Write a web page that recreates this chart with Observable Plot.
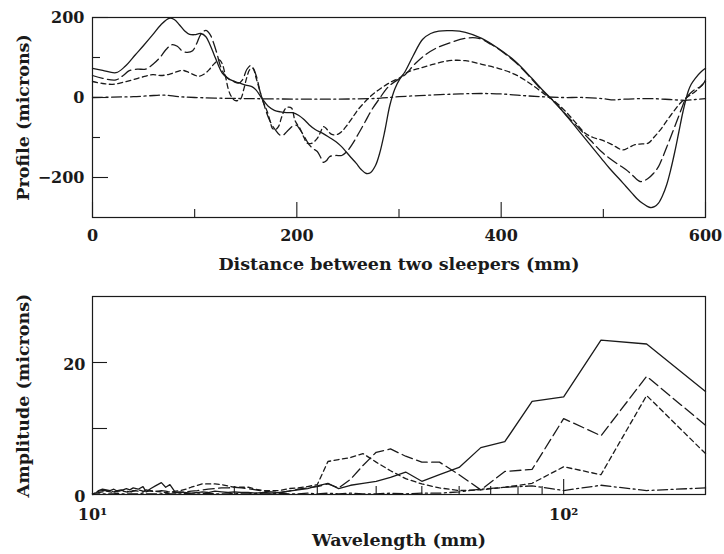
<!DOCTYPE html>
<html>
<head>
<meta charset="utf-8">
<script src="https://cdn.jsdelivr.net/npm/d3@7"></script>
<script src="https://cdn.jsdelivr.net/npm/@observablehq/plot@0.6"></script>
<style>
  html, body { margin: 0; padding: 0; background: #fff; }
  #chart { width: 724px; height: 554px; }
  #chart svg { display: block; }
</style>
</head>
<body>
<div id="chart"></div>
<script>
// ---------- Top panel: profile between two sleepers ----------
const solidDist = [0,10,23,32,42,50,59,67,75,80,85,90,95,100,106,111,115,119,123,127,132,137,143,150,156,160,166,172,178,184,190,196,202,207,212,218,225,232,238,243,248,253,258,263,268,272,277,281,286,291,296,301,306,314,323,331,339,352,365,381,397,414,430,440,449,458,466,474,482,490,498,506,515,522,528,533,538,543,546,550,554,558,562,566,570,574,578,583,586,590,596,600];
const solidProf = [73,68,62,78,107,130,157,182,198,195,182,167,158,157,160,152,132,107,82,61,49,42,37,31,27,19,-3,-22,-32,-36,-38,-38,-45,-55,-68,-80,-89,-100,-110,-121,-135,-150,-164,-180,-190,-188,-170,-140,-85,-20,22,47,65,105,145,160,166,167,163,148,123,90,48,20,-3,-28,-52,-77,-102,-127,-152,-177,-202,-222,-239,-253,-264,-272,-275,-273,-264,-245,-218,-180,-135,-85,-35,15,33,48,65,73];

const longDist = [0,10,23,30,36,44,52,60,66,72,78,83,88,93,98,102,106,111,115,118,122,125,129,134,138,143,147,151,155,158,161,164,167,170,173,176,179,183,186,190,193,197,200,203,207,212,216,220,223,226,229,232,238,244,249,254,260,267,273,280,290,301,306,316,326,337,349,365,378,390,397,414,430,440,449,458,466,474,482,490,498,506,515,522,528,532,536,540,544,549,554,558,563,568,573,577,580,583,587,591,595,598,600];
const longProf = [55,48,44,55,67,71,71,85,100,120,132,128,116,113,117,135,158,168,158,140,108,80,58,45,40,36,45,70,80,70,48,15,-10,-35,-55,-70,-81,-93,-95,-86,-78,-70,-70,-80,-96,-118,-128,-135,-148,-162,-158,-148,-145,-145,-135,-118,-92,-60,-32,-6,28,48,57,85,107,124,136,148,148,133,122,88,46,18,-4,-27,-50,-71,-93,-114,-135,-152,-168,-180,-193,-203,-210,-208,-202,-190,-173,-150,-118,-85,-52,-25,-6,5,15,22,27,35,44];

const shortDist = [0,10,20,30,39,50,59,67,75,82,88,94,100,104,109,114,119,124,127,130,133,136,140,145,148,151,154,157,160,164,167,171,174,176,179,182,185,189,192,195,198,201,203,207,210,215,220,223,226,229,232,235,240,244,249,254,260,267,273,280,287,293,301,306,312,319,332,349,365,381,397,414,430,443,449,458,466,474,482,490,498,508,519,525,531,538,544,550,557,563,570,575,580,585,590,595,600];
const shortProf = [40,35,33,38,44,52,57,55,58,64,68,63,56,53,58,69,84,94,84,55,20,2,-8,-3,20,50,70,73,50,15,-10,-35,-60,-77,-80,-73,-50,-27,-24,-27,-56,-70,-77,-100,-114,-114,-102,-88,-73,-78,-88,-93,-92,-85,-70,-52,-30,-10,5,19,31,40,50,60,67,72,82,92,92,83,73,57,32,7,-3,-22,-43,-66,-89,-100,-106,-117,-131,-125,-118,-116,-114,-98,-77,-55,-31,-15,-3,6,15,27,40];

const dashDotDist = [0,20,40,60,70,85,100,130,160,200,240,280,300,330,360,380,400,420,440,460,480,500,510,520,535,550,565,580,590,600];
const dashDotProf = [0,1,2,5,6,2,0,-2,-3,-4,-4,-2,2,6,9,10,9,5,2,0,0,-3,-6,-4,-3,-3,-5,-7,-5,-3];

const topXMajor = [0,200,400,600];
const topXMinor = [100,300,500];
const topYMajor = [-200,0,200];
const topYMinor = [-100,100];

// ---------- Bottom panel: amplitude spectrum ----------
const wavelength = [200,150,120,100,85.7,75,66.7,60,54.5,50,46.2,42.9,40,37.5,35.3,33.3,31.6,30,28.6,27.3,26.1,25,24,23.1,22.2,21.4,20.7,20,19.4,18.8,18.2,17.6,17.1,16.7,16.2,15.8,15.4,15,14.6,14.3,14,13.6,13.3,13,12.8,12.5,12.2,12,11.8,11.5,11.3,11.1,10.9,10.7,10.5,10.3,10.2,10];
const ampSolid = [15.6,22.8,23.4,14.8,14.1,8.0,7.1,4.1,3.0,2.0,3.4,2.6,2.0,1.7,1.4,0.9,1.7,1.3,0.9,0.7,0.5,0.3,0.2,0.3,0.2,0.3,0.3,0.4,0.3,0.4,0.5,0.3,0.4,0.3,0.2,0.3,0.4,0.3,1.5,1.1,1.8,1.3,0.9,0.4,1.2,0.8,1.0,0.7,0.9,0.6,0.5,0.8,0.6,0.7,0.8,0.6,0.3,0.1];
const ampLong = [10.5,17.9,8.9,11.5,3.8,3.5,0.7,3.0,4.9,4.9,5.8,6.9,6.4,4.4,2.3,1.0,1.6,1.2,1.0,0.8,0.5,0.3,0.4,0.5,0.7,0.9,1.0,1.1,1.0,1.0,0.9,0.8,0.7,0.6,0.5,0.4,0.3,0.3,0.4,0.5,0.6,0.4,0.5,0.7,0.4,0.5,0.6,0.4,0.5,0.7,0.6,0.4,0.5,0.6,0.6,0.5,0.3,0.1];
const ampShort = [6.2,15.0,3.0,4.2,1.7,1.1,0.7,0.6,1.0,1.6,2.4,3.6,4.9,6.2,5.6,5.3,5.0,1.5,1.2,1.0,0.9,0.6,0.6,0.6,0.8,1.1,1.1,1.1,1.3,1.5,1.6,1.6,1.6,1.4,1.1,0.8,0.6,0.5,0.4,0.3,0.4,0.5,0.6,0.4,0.5,0.7,0.5,0.3,0.4,0.6,0.5,0.3,0.4,0.5,0.4,0.3,0.2,0.1];
const ampDashDot = [1.0,0.6,1.4,0.6,1.3,1.1,0.8,0.4,0.2,0.2,0.1,0.2,0.1,0.1,0.2,0.1,0.2,0.1,0.2,0.1,0.1,0.2,0.1,0.1,0.2,0.1,0.1,0.2,0.1,0.1,0.1,0.2,0.1,0.1,0.1,0.2,0.1,0.1,0.1,0.2,0.1,0.1,0.1,0.1,0.2,0.1,0.1,0.1,0.1,0.1,0.2,0.1,0.1,0.1,0.1,0.1,0.1,0.0];

const botXMajor = [100];
const botXMinor = [20,30,40,50,60,70,80,90,200];
const botYTicks = [10,20];
const botXLabelValues = [10,100];
const botXLabelText = ["10\u00B9","10\u00B2"];
const botYLabels = [0,20];

// ---------- styles ----------
const INK = "#1a1a1a";
const LW = 1.3;
const dashes = {solid: null, long: "11,4.5", short: "5,3.5", dashdot: "10,3.5,2,3.5"};
const FONT = "DejaVu Serif";
const TICK_FS = 16, TITLE_FS = 17.5;

function table(xs, ys) { return xs.map((x, i) => ({x, y: ys[i]})); }

const W = 724;
const mL = 92, mR = 19;
const frameW = W - mL - mR;

// Top plot
const topH = 280, topMT = 17, topMB = 63, topFH = topH - topMT - topMB;
const topSeries = [
  [table(solidDist, solidProf), dashes.solid],
  [table(longDist, longProf), dashes.long],
  [table(shortDist, shortProf), dashes.short],
  [table(dashDotDist, dashDotProf), dashes.dashdot]
];

const topPlot = Plot.plot({
  width: W, height: topH,
  marginLeft: mL, marginRight: mR, marginTop: topMT, marginBottom: topMB,
  x: {domain: [0, 600]},
  y: {domain: [-300, 200]},
  style: {fontFamily: FONT, color: INK, background: "white"},
  marks: [
    ...topSeries.map(([data, dash]) => Plot.line(data, {x: "x", y: "y", curve: "catmull-rom", stroke: INK, strokeWidth: LW, strokeDasharray: dash})),
    Plot.tickX(topXMajor, {x: d => d, insetTop: topFH - 15, stroke: INK, strokeWidth: 1.1}),
    Plot.tickX(topXMinor, {x: d => d, insetTop: topFH - 8, stroke: INK, strokeWidth: 1.1}),
    Plot.tickY(topYMajor, {y: d => d, insetRight: frameW - 16, stroke: INK, strokeWidth: 1.1}),
    Plot.tickY(topYMinor, {y: d => d, insetRight: frameW - 8, stroke: INK, strokeWidth: 1.1}),
    Plot.frame({stroke: INK, strokeWidth: 1.2}),
    Plot.axisX(topXMajor, {tickSize: 0, tickPadding: 12, fontSize: TICK_FS, fontWeight: "bold", label: null}),
    Plot.axisY(topYMajor, {tickSize: 0, tickPadding: 8, fontSize: TICK_FS, fontWeight: "bold", label: null}),
    Plot.text(["Distance between two sleepers (mm)"], {frameAnchor: "bottom", textAnchor: "middle", lineAnchor: "top", dy: 40, fontSize: TITLE_FS, fontWeight: "bold", fill: INK}),
    Plot.text(["Profile (microns)"], {frameAnchor: "left", textAnchor: "middle", rotate: -90, dx: -69, fontSize: TITLE_FS, fontWeight: "bold", fill: INK})
  ]
});

// Bottom plot
const botH = 274, botMT = 16, botMB = 60, botFH = botH - botMT - botMB;
const botSeries = [
  [table(wavelength, ampSolid), dashes.solid],
  [table(wavelength, ampLong), dashes.long],
  [table(wavelength, ampShort), dashes.short],
  [table(wavelength, ampDashDot), dashes.dashdot]
];

const botPlot = Plot.plot({
  width: W, height: botH,
  marginLeft: mL, marginRight: mR, marginTop: botMT, marginBottom: botMB,
  x: {type: "log", domain: [10, 200]},
  y: {domain: [0, 30]},
  style: {fontFamily: FONT, color: INK, background: "white"},
  marks: [
    ...botSeries.map(([data, dash]) => Plot.line(data, {x: "x", y: "y", stroke: INK, strokeWidth: LW, strokeDasharray: dash})),
    Plot.tickX(botXMajor, {x: d => d, insetTop: botFH - 15, stroke: INK, strokeWidth: 1.1}),
    Plot.tickX(botXMinor, {x: d => d, insetTop: botFH - 8, stroke: INK, strokeWidth: 1.1}),
    Plot.tickY(botYTicks, {y: d => d, insetRight: frameW - 15, stroke: INK, strokeWidth: 1.1}),
    Plot.frame({stroke: INK, strokeWidth: 1.2}),
    Plot.axisX(botXLabelValues, {tickSize: 0, tickPadding: 14, fontSize: TICK_FS, fontWeight: "bold", label: null,
      tickFormat: d => botXLabelText[botXLabelValues.indexOf(d)]}),
    Plot.axisY(botYLabels, {tickSize: 0, tickPadding: 7, fontSize: TICK_FS, fontWeight: "bold", label: null, dy: 2}),
    Plot.text(["Wavelength (mm)"], {frameAnchor: "bottom", textAnchor: "middle", lineAnchor: "top", dy: 39, fontSize: TITLE_FS, fontWeight: "bold", fill: INK}),
    Plot.text(["Amplitude (microns)"], {frameAnchor: "left", textAnchor: "middle", rotate: -90, dx: -69, fontSize: TITLE_FS, fontWeight: "bold", fill: INK})
  ]
});

const chart = document.getElementById("chart");
chart.appendChild(topPlot);
chart.appendChild(botPlot);
</script>
</body>
</html>
